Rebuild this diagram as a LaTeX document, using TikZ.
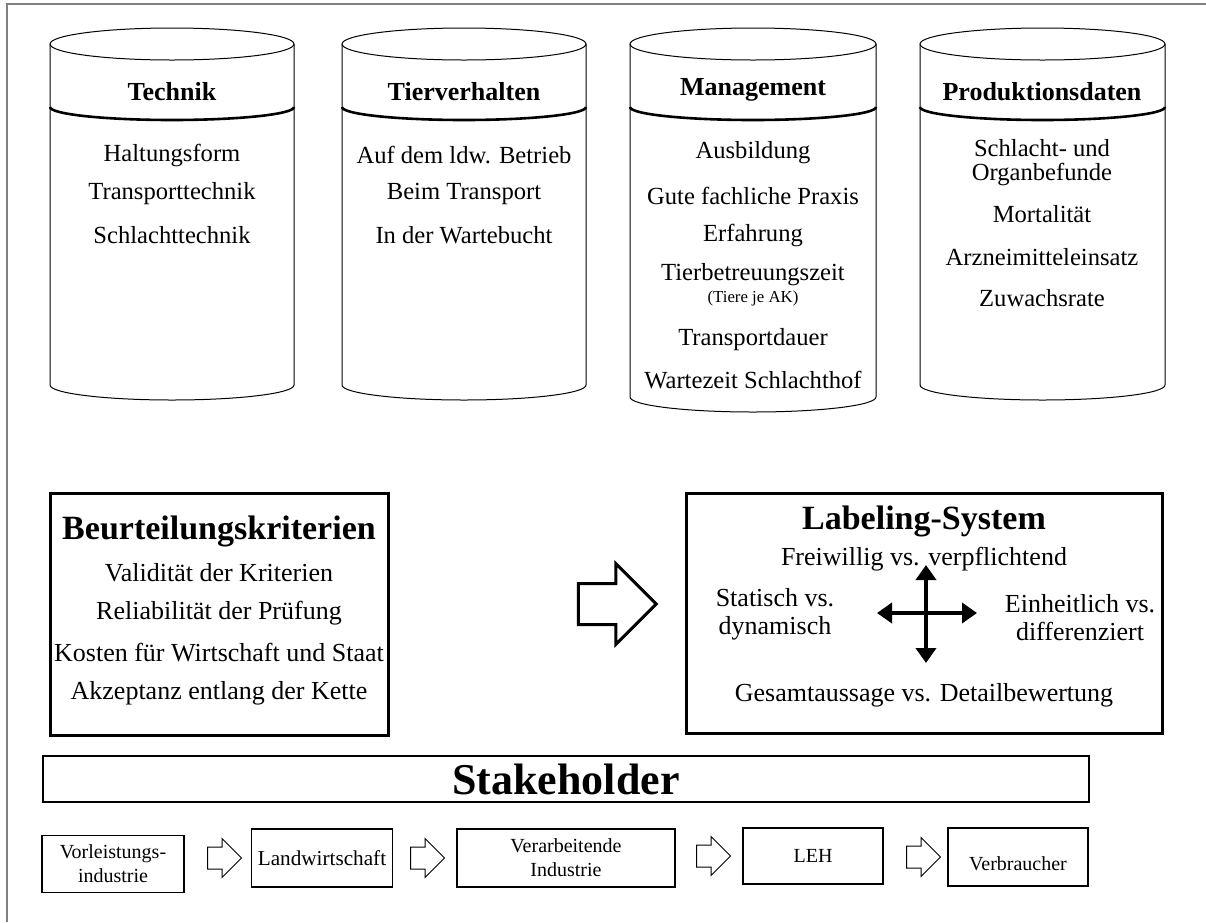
\documentclass[tikz,border=0pt]{standalone}
\usepackage{fontspec}
\setmainfont{Liberation Serif}
\usetikzlibrary{arrows.meta,shapes.arrows}

\begin{document}
\begin{tikzpicture}[x=0.5pt,y=0.5pt,
  cyltitle/.style={font=\fontsize{13}{15}\selectfont\bfseries},
  item/.style={font=\fontsize{12.3}{12}\selectfont, align=center},
  smallitem/.style={font=\fontsize{8.4}{10}\selectfont},
  boxtitle/.style={font=\fontsize{17}{20}\selectfont\bfseries},
  boxitem/.style={font=\fontsize{13}{14}\selectfont, align=center},
  bigbox/.style={draw, line width=1.5pt, inner sep=0pt},
  chain/.style={draw, line width=0.6pt, font=\fontsize{10}{12}\selectfont, align=center, inner sep=0pt},
  hollow/.style={single arrow, draw, line width=0.5pt, inner xsep=0pt, inner ysep=5.25pt, single arrow head extend=4.25pt, minimum height=17pt},
  crosstip/.style={line width=2pt, {Triangle[length=7.5pt,width=10pt]}-{Triangle[length=7.5pt,width=10pt]}}]
\useasboundingbox (0,0) rectangle (1206,-922);
\draw[gray, line width=0.8pt] (7,-922) -- (7,-4) -- (1206,-4);

% cylinders
\foreach \l/\r/\b in {50/294/385, 342/586/385, 630/876/397, 920/1165/385}{
  \pgfmathsetmacro\rx{(\r-\l)/2}
  \draw[line width=0.5pt] ({(\l+\r)/2},-44) ellipse [x radius=\rx, y radius=16];
  \draw[line width=0.5pt] (\l,-44) -- (\l,-\b) arc [start angle=180, end angle=360, x radius=\rx, y radius=15] -- (\r,-44);
  \draw[line width=1.3pt] (\l,-107) arc [start angle=180, end angle=360, x radius=\rx, y radius=13];
}

\node[cyltitle] (tech) at (172,-92) {Technik};
\node[item] (tech1) at (172,-155) {Haltungsform};
\node[item] (tech2) at (172,-194) {Transporttechnik};
\node[item] (tech3) at (172,-235) {Schlachttechnik};

\node[cyltitle] (tier) at (464,-92) {Tierverhalten};
\node[item] (tier1) at (464,-155) {Auf dem ldw. Betrieb};
\node[item] (tier2) at (464,-194) {Beim Transport};
\node[item] (tier3) at (464,-235) {In der Wartebucht};

\node[cyltitle] (mgmt) at (753,-90) {Management};
\node[item] (mgmt1) at (753,-153) {Ausbildung};
\node[item] (mgmt2) at (753,-196) {Gute fachliche Praxis};
\node[item] (mgmt3) at (753,-235) {Erfahrung};
\node[item] (mgmt4) at (753,-275) {Tierbetreuungszeit};
\node[smallitem] (mgmt4b) at (753,-298) {(Tiere je AK)};
\node[item] (mgmt5) at (753,-340) {Transportdauer};
\node[item] (mgmt6) at (753,-380) {Wartezeit Schlachthof};

\node[cyltitle] (prod) at (1042,-92) {Produktionsdaten};
\node[item] (prod1) at (1042,-163) {Schlacht- und\\Organbefunde};
\node[item] (prod2) at (1042,-214) {Mortalität};
\node[item] (prod3) at (1042,-257) {Arzneimitteleinsatz};
\node[item] (prod4) at (1042,-298) {Zuwachsrate};

% criteria and labeling
\node[bigbox, minimum width=169pt, minimum height=121pt] (krit) at (219,-614) {};
\node[boxtitle] (kritT) at (219,-531) {Beurteilungskriterien};
\node[boxitem] (krit1) at (219,-573) {Validität der Kriterien};
\node[boxitem] (krit2) at (219,-613) {Reliabilität der Prüfung};
\node[boxitem] (krit3) at (219,-653) {Kosten für Wirtschaft und Staat};
\node[boxitem] (krit4) at (219,-693) {Akzeptanz entlang der Kette};

\node[hollow, line width=1.5pt, inner ysep=9.5pt, minimum height=39pt, single arrow head extend=10pt] (big) at (607,-604) {};

\node[bigbox, minimum width=238pt, minimum height=120pt] (label) at (924,-613) {};
\node[boxtitle] (labelT) at (924,-521) {Labeling-System};
\node[boxitem] (label1) at (924,-559) {Freiwillig vs. verpflichtend};
\node[boxitem] (label2) at (775,-614) {Statisch vs.\\dynamisch};
\node[boxitem] (label3) at (1080,-618) {Einheitlich vs.\\differenziert};
\node[boxitem] (label4) at (924,-695) {Gesamtaussage vs. Detailbewertung};
\coordinate (crossL) at (877,-613);
\coordinate (crossR) at (977,-613);
\coordinate (crossU) at (926,-565);
\coordinate (crossD) at (926,-663);
\draw[crosstip] (crossL) -- (crossR);
\draw[crosstip] (crossU) -- (crossD);

% stakeholder
\node[draw, line width=0.6pt, minimum width=523pt, minimum height=23pt, inner sep=0pt, font=\fontsize{22}{24}\selectfont\bfseries] (stake) at (566,-779) {Stakeholder};

\node[chain, minimum width=71pt, minimum height=28.5pt] (vor) at (113,-864) {Vorleistungs-\\industrie};
\node[chain, minimum width=70.5pt, minimum height=29pt, font=\fontsize{10.6}{12}\selectfont] (land) at (322,-858) {Landwirtschaft};
\node[chain, minimum width=109pt, minimum height=29pt] (verarb) at (566,-858) {Verarbeitende\\Industrie};
\node[chain, minimum width=70pt, minimum height=28pt] (leh) at (813,-856) {LEH};
\node[chain, minimum width=70pt, minimum height=29pt] (verbr) at (1018,-857) {\raisebox{-3pt}[7pt][0pt]{Verbraucher}};

\node[hollow] (a1) at (219,-858) {};
\node[hollow] (a2) at (422,-858) {};
\node[hollow] (a3) at (708,-856) {};
\node[hollow] (a4) at (918,-857) {};
\end{tikzpicture}
\end{document}
